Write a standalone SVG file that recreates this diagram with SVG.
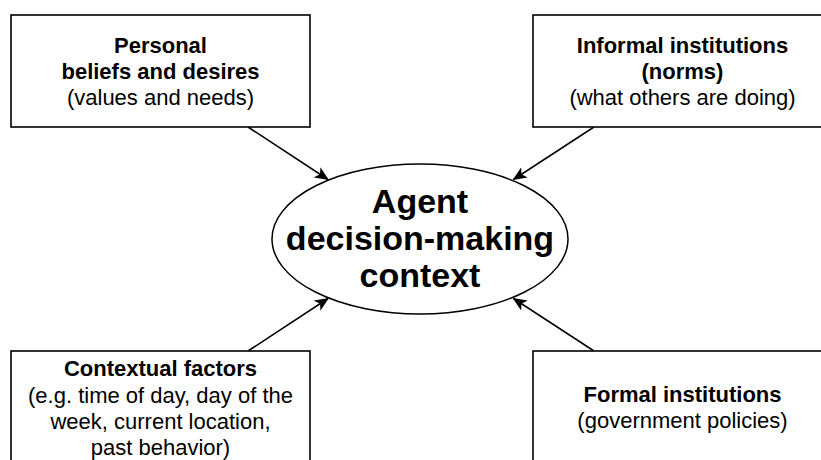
<svg xmlns="http://www.w3.org/2000/svg" width="821" height="460" viewBox="0 0 821 460">
<style>
.box{fill:#fff;stroke:#000;stroke-width:1.6}
.ell{fill:#fff;stroke:#000;stroke-width:1.5}
.t{font-family:"Liberation Sans",Arial,sans-serif;font-size:22px;fill:#000;text-anchor:middle}
.b{font-weight:bold}
.big{font-family:"Liberation Sans",Arial,sans-serif;font-size:34px;font-weight:bold;fill:#000;text-anchor:middle}
.conn{stroke:#000;stroke-width:1.5;fill:none;marker-end:url(#arr)}
</style>
<defs>
<marker id="arr" markerUnits="userSpaceOnUse" markerWidth="14" markerHeight="12" viewBox="0 0 14 12" refX="13" refY="6" orient="auto">
<path d="M0,0 L14,6 L0,12 L3.5,6 Z" fill="#000"/>
</marker>
</defs>
<rect width="821" height="460" fill="#fff"/>
<g id="connectors">
<line class="conn" x1="248" y1="127" x2="328" y2="179.5"/>
<line class="conn" x1="594" y1="127" x2="513.5" y2="179.5"/>
<line class="conn" x1="248" y1="351" x2="328" y2="298.5"/>
<line class="conn" x1="594" y1="351" x2="513.5" y2="298.5"/>
</g>
<g id="personal">
<rect class="box" x="11" y="15" width="299" height="112"/>
<text class="t b" x="160.5" y="53">Personal</text>
<text class="t b" x="160.5" y="79">beliefs and desires</text>
<text class="t" x="160.5" y="105">(values and needs)</text>
</g>
<g id="informal">
<rect class="box" x="533" y="15" width="299" height="112"/>
<text class="t b" x="682.5" y="53">Informal institutions</text>
<text class="t b" x="682.5" y="79">(norms)</text>
<text class="t" x="682.5" y="105">(what others are doing)</text>
</g>
<g id="contextual">
<rect class="box" x="11" y="351" width="299" height="112"/>
<text class="t b" x="160.5" y="376">Contextual factors</text>
<text class="t" x="160.5" y="403">(e.g. time of day, day of the</text>
<text class="t" x="160.5" y="429">week, current location,</text>
<text class="t" x="160.5" y="455">past behavior)</text>
</g>
<g id="formal">
<rect class="box" x="533" y="351" width="299" height="112"/>
<text class="t b" x="682.5" y="402">Formal institutions</text>
<text class="t" x="682.5" y="428">(government policies)</text>
</g>
<g id="agent">
<ellipse class="ell" cx="420" cy="239" rx="148" ry="75"/>
<text class="big" x="420" y="213">Agent</text>
<text class="big" x="420" y="250">decision-making</text>
<text class="big" x="420" y="287">context</text>
</g>
</svg>
